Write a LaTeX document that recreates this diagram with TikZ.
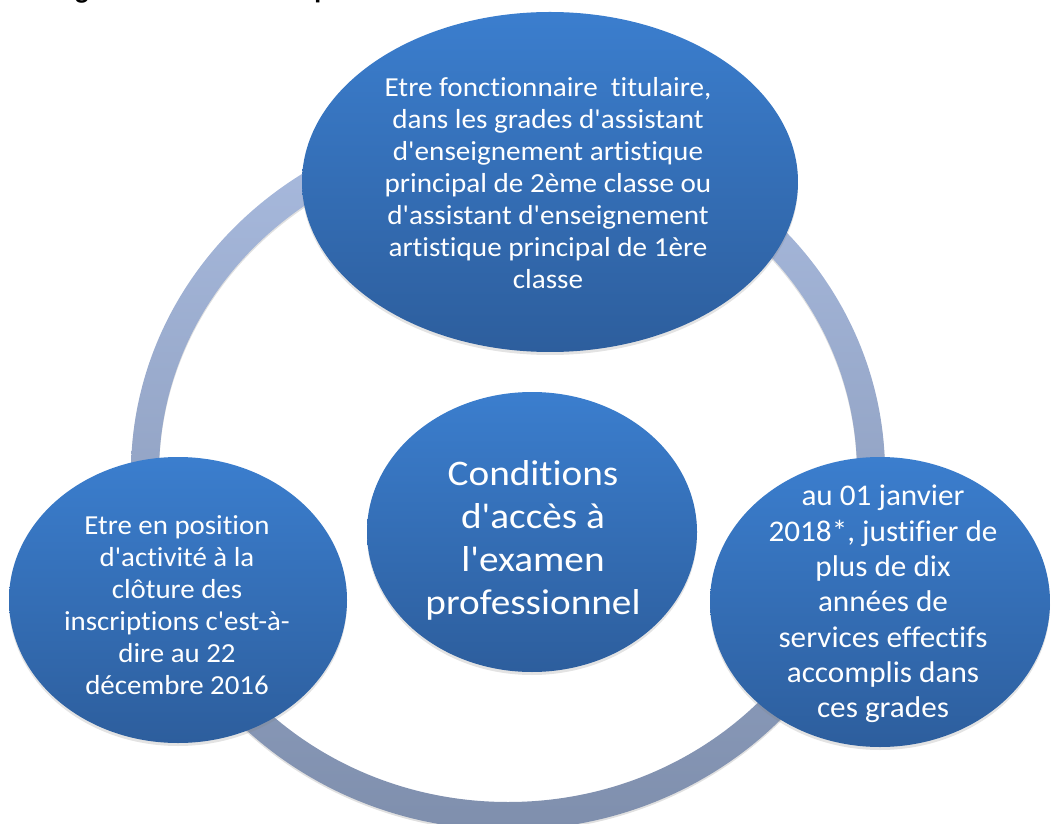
\documentclass[tikz,border=0pt]{standalone}
\usepackage{fontspec}
\newfontfamily\calib[Ligatures=NoCommon]{Carlito}
\usetikzlibrary{shapes.geometric,shadows}
\definecolor{bubTop}{HTML}{3B7ECE}
\definecolor{bubBot}{HTML}{2D5E9D}
\definecolor{ringTop}{HTML}{A9BBDF}
\definecolor{ringBot}{HTML}{7F8FAD}
\begin{document}
\begin{tikzpicture}[x=1pt,y=1pt,
  bubble/.style={ellipse, inner sep=0pt, draw=none, top color=bubTop, bottom color=bubBot,
    drop shadow={opacity=0.22, shadow xshift=0pt, shadow yshift=-3pt}},
  bubtext/.style={text=white, align=center, inner sep=0pt},
  titlefrag/.style={font=\calib\bfseries\fontsize{28}{34}\selectfont, anchor=base, inner sep=0pt, text=black}]
\useasboundingbox (0,0) rectangle (1051,823);
% cut-off title fragments
\node[titlefrag] (tg) at (82,824.5) {g};
\node[titlefrag] (tp) at (322,824.5) {p};
% ring shadow and ring
\fill[black, opacity=0.12, even odd rule] (508,348) ellipse [x radius=377pt, y radius=357pt] (508,348) ellipse [x radius=349pt, y radius=329pt];
\shade[top color=ringTop, bottom color=ringBot, even odd rule] (508,350) ellipse [x radius=377pt, y radius=357pt] (508,350) ellipse [x radius=349pt, y radius=329pt];
% bubbles
\node[bubble, minimum width=496pt, minimum height=340pt] (top) at (550,641) {};
\node[bubble, minimum width=338pt, minimum height=286pt] (left) at (178,223) {};
\node[bubble, minimum width=340pt, minimum height=290pt] (right) at (880,221) {};
\node[bubble, minimum width=330pt, minimum height=280pt] (center) at (532,291) {};
% texts
\node[bubtext, font=\calib\addfontfeature{FakeStretch=1.06}\fontsize{27.5}{32}\selectfont] (ttop) at (548,640)
  {Etre fonctionnaire\ \ titulaire,\\ dans les grades d'assistant\\ d'enseignement artistique\\ principal de 2ème classe ou\\ d'assistant d'enseignement\\ artistique principal de 1ère\\ classe};
\node[bubtext, font=\calib\addfontfeature{FakeStretch=1.09}\fontsize{36}{43}\selectfont] (tcenter) at (533,283)
  {Conditions\\ d'accès à\\ l'examen\\ professionnel};
\node[bubtext, font=\calib\addfontfeature{FakeStretch=1.05}\fontsize{27.5}{32}\selectfont] (tleft) at (177,218)
  {Etre en position\\ d'activité à la\\ clôture des\\ inscriptions c'est-à-\\ dire au 22\\ décembre 2016};
\node[bubtext, font=\calib\addfontfeature{FakeStretch=1.04}\fontsize{30}{35.3}\selectfont] (tright) at (883,219)
  {au 01 janvier\\ 2018*, justifier de\\ plus de dix\\ années de\\ services effectifs\\ accomplis dans\\ ces grades};
\end{tikzpicture}
\end{document}
